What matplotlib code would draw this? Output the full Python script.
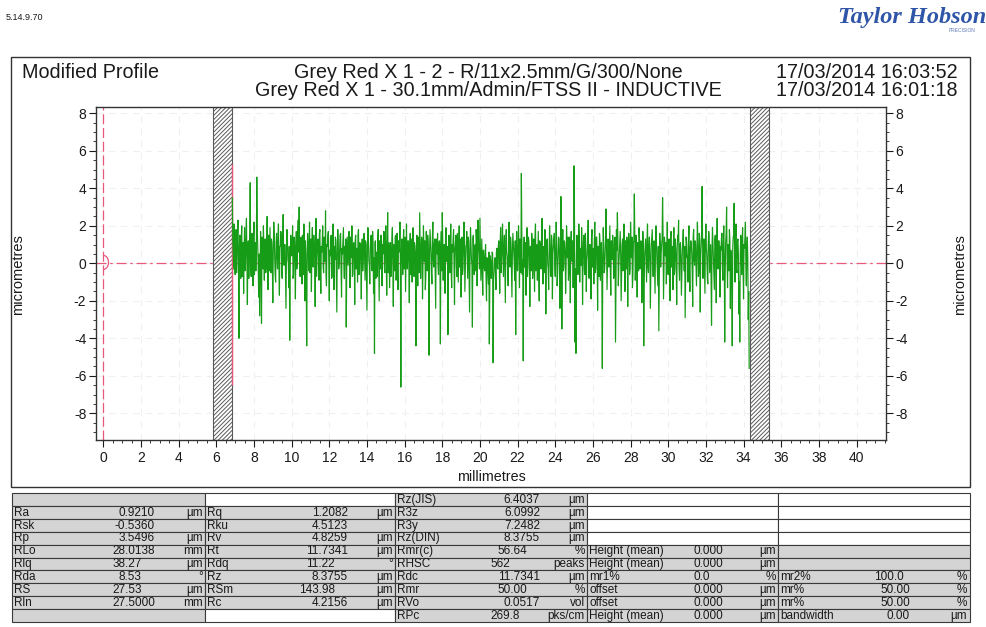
import numpy as np
import matplotlib
matplotlib.use("Agg")
import matplotlib.pyplot as plt
from matplotlib.patches import Rectangle, Arc
from matplotlib.ticker import MultipleLocator

plt.rcParams['font.family'] = ['Liberation Sans', 'DejaVu Sans']
plt.rcParams['hatch.linewidth'] = 0.7
plt.rcParams['hatch.color'] = '#6a6a6a'
plt.rcParams['axes.unicode_minus'] = False

# ---- measured profile (micrometres), sampled every 0.025 mm from 6.85 mm ----
profile_start_mm = 6.85
sample_spacing_mm = 0.025
profile_um = [
    3.5, 1.2, 0.4, -0.3, 2.1, 0.9, -0.6, 1.4, 1.8, -0.5, 0.2, 1.6, 2.3, 0.2, -4.0, 0.8, 1.5, -0.2, -0.8, 1.3,
    2.0, -0.7, 0.5, 1.1, -1.6, 0.6, 1.9, -0.4, 0.1, 1.5, 2.4, 0.3, -2.2, 0.9, 1.2, -0.8, 0.3, 1.7, 4.3, 0.1,
    -0.7, 1.0, 1.6, 0.4, -1.2, 1.3, 2.2, -0.6, 0.6, 1.1, -0.4, 0.7, 4.6, 2.0, 0.9, -0.2, -1.8, 0.5, -2.8, -0.9,
    1.7, 0.6, -3.2, 1.4, 0.8, -0.3, 2.0, 0.9, -0.9, 1.2, 1.3, -0.5, -0.2, 1.0, 2.5, 0.2, -1.4, 1.5, 0.7, -0.4,
    1.9, 0.8, -0.5, 1.3, 1.1, -0.1, -2.1, 0.7, 2.2, 1.6, 0.3, -0.6, -1.0, 1.1, 1.6, 0.4, -0.3, 1.4, 2.1, -0.2,
    -1.7, 0.9, 0.9, 1.7, 1.4, -0.5, -0.8, 1.2, 2.6, 0.3, -0.1, 1.0, 1.0, -0.7, -2.4, 0.6, 1.8, 1.3, 0.2, 0.0,
    -1.3, 0.9, -4.1, -0.4, 1.5, 1.2, 0.4, 0.5, 2.0, -0.8, -0.6, 1.4, 1.2, 0.1, -1.9, 1.0, 1.7, -0.3, 0.1, 1.6,
    2.3, 0.6, 3.0, -0.2, -0.7, 1.1, 1.4, 0.4, -1.1, 1.5, 0.8, -0.6, 2.1, 0.8, -2.0, 1.2, 0.5, -0.9, -4.4, 0.7,
    1.6, 1.1, -0.4, 0.2, 2.2, -0.5, 0.7, 1.3, -1.5, 0.8, 1.9, -0.1, -0.2, 1.5, 1.0, 0.3, -2.3, 1.0, 2.4, -0.7,
    0.3, 1.2, 1.3, 0.5, -0.9, 1.6, 1.8, -0.4, -1.6, 0.9, 0.6, 1.1, 2.0, -0.2, -0.5, 1.4, 1.1, 0.1, 2.8, -0.6,
    -1.2, 1.0, 0.9, 1.5, 1.7, -0.3, -2.0, 0.7, 0.4, 1.2, 1.5, -0.8, -0.7, 1.3, 2.1, 0.2, -1.4, 0.9, 0.2, 1.4,
    1.2, -0.5, -2.6, 0.6, 1.8, 1.1, -0.3, 0.0, 0.8, 1.5, 1.6, -0.4, -1.8, 0.8, 0.5, 1.2, 1.9, -0.1, -0.8, 0.9,
    0.6, 1.3, -3.4, -0.5, 1.4, 0.6, -0.1, 1.1, 1.7, -0.2, -1.3, 1.4, 0.9, 0.3, 2.0, -0.7, -0.6, 1.0, 1.1, 0.5,
    -2.2, 1.2, 1.5, -0.3, 0.3, 0.8, -1.0, 1.5, 1.8, -0.6, -0.4, 1.1, 0.7, 0.2, -1.9, 0.9, 1.3, -0.4, 0.1, 1.3,
    1.6, 0.4, -0.9, 1.2, 1.0, -0.6, -2.5, 0.9, 1.9, 1.3, 0.2, -0.1, -1.1, 0.7, 1.4, 1.5, -0.3, -0.4, 1.7, 1.0,
    -1.6, 0.3, -4.8, 1.1, 1.2, -0.8, 0.4, 0.6, -0.7, 1.4, 1.8, 0.0, -2.0, 1.2, 0.9, -0.3, 1.5, 0.8, -1.2, 1.0,
    0.5, 1.2, 1.7, -0.2, -0.5, 1.4, 2.0, 0.3, -1.7, 0.9, 2.7, -0.5, 0.3, 1.1, -1.3, 0.6, 1.1, -0.7, -0.2, 1.3,
    1.9, 0.1, -2.3, 1.0, 0.8, -0.4, 1.4, 1.5, -0.9, 0.2, 1.6, -0.6, -1.4, 1.2, 0.6, 0.7, 2.2, -0.1, -6.6, 0.5,
    1.3, 0.9, -0.6, 1.1, 1.8, -0.3, 0.2, 1.4, -1.5, 0.5, 2.1, -0.2, -0.3, 1.2, 1.2, 0.0, -2.1, 1.0, 1.6, -0.6,
    0.4, 1.3, -1.0, 0.8, 1.9, -0.4, -0.7, 1.1, 0.9, 0.3, -4.4, 0.6, 1.5, -0.1, -1.2, 1.4, 0.7, -0.5, 2.7, 1.0,
    -0.8, 0.6, 1.4, 1.3, -1.9, -0.2, 2.0, 0.8, 0.1, 1.2, -1.4, -0.7, 1.7, 0.9, -0.4, 1.5, 1.1, -0.3, -4.9, 0.7,
    1.8, 1.1, 0.5, -0.5, -1.1, 1.4, 2.2, 0.2, -0.2, 1.0, 1.3, -0.4, -2.4, 1.3, 0.8, 0.5, 1.6, -0.2, -0.6, 1.1,
    1.2, 0.3, -4.3, 1.0, 1.7, -0.4, 2.7, 1.2, -0.9, 0.7, 1.0, -0.6, -1.6, 1.4, 1.9, 0.1, 0.3, 0.9, -3.8, -0.3,
    1.5, 1.2, -0.5, 0.6, 2.1, -0.5, -1.3, 1.0, 0.6, 1.3, 1.8, -0.1, -2.2, 0.8, 1.1, 1.5, -0.1, -0.7, 1.6, 0.4,
    -1.0, 1.1, 2.0, -0.2, 0.4, 1.3, -1.8, 0.5, 1.4, -0.6, -0.3, 0.9, 2.2, 1.2, -1.5, -0.3, 0.9, 1.0, 1.7, 0.4,
    -0.8, 1.4, 1.2, -0.5, -2.6, 0.7, 1.9, 1.1, 0.2, -0.1, -3.4, 1.3, 1.5, 0.2, -0.6, 0.9, 1.0, -0.4, 1.8, 1.2,
    -1.2, 0.5, 2.3, 1.0, 0.5, -0.3, 2.4, 0.8, -0.9, 0.2, 1.3, -0.6, -1.7, 0.7, 0.7, -0.2, -0.4, 0.4, 1.0, -0.8,
    -2.0, 0.3, 0.2, -0.5, -1.1, 0.6, -4.3, -1.0, 0.4, 0.1, -0.8, -0.4, 0.6, 0.5, -5.3, -0.9, -0.5, 0.2, 0.3, -0.3,
    -1.4, 0.6, 0.8, -0.2, -0.3, 0.9, 1.2, 0.3, -1.6, 1.1, 1.9, -0.5, 0.1, 1.3, 2.1, 0.4, -0.7, 0.8, 1.5, -0.3,
    -2.1, 1.2, 1.8, 0.6, 0.4, -0.6, -1.2, 1.0, 2.2, 0.2, -0.2, 1.4, 1.1, -0.4, -1.8, 0.7, 1.6, 1.1, 0.5, -0.1,
    -0.9, 1.2, -3.8, 0.4, 1.7, -0.3, -0.4, 1.0, 2.0, 0.6, -1.3, 1.3, 0.8, -0.5, 4.8, 1.6, -0.6, 0.2, -5.2, 0.8,
    1.4, -0.2, 0.2, 1.1, -1.7, 0.5, 1.9, -0.7, -0.1, 1.4, 1.2, 0.3, -2.3, 0.9, 0.9, -0.4, 1.6, 1.2, -0.8, 0.1,
    1.3, 0.7, -1.5, 1.4, 2.1, -0.4, 0.3, 1.0, -0.9, 0.3, 1.7, -0.6, -2.0, 1.2, 1.0, 0.8, -0.3, 1.5, 2.4, -0.2,
    -1.1, 0.9, 0.6, -0.5, 1.8, 1.1, -2.7, 0.4, 1.2, 1.3, 0.0, -0.3, -1.4, 0.6, 2.0, 1.0, -0.5, -0.7, 1.5, 1.2,
    -1.9, 0.5, 0.9, 1.3, 1.6, -0.1, -0.7, 0.8, 2.2, 1.1, -1.2, -0.6, 0.4, 1.4, 1.3, 0.2, -2.4, 0.9, 3.56, 1.6,
    -3.5, 0.3, 1.8, -0.4, -0.2, 1.2, 1.1, 0.6, -1.6, -0.2, 2.0, 1.0, 0.3, 1.4, -0.9, -0.5, 1.4, 0.7, -2.1, 1.1,
    1.7, 0.2, 0.1, 1.2, -1.3, 0.6, 5.2, 1.8, -4.2, -0.3, -4.8, 0.4, 1.5, 1.0, -0.6, -0.5, 2.1, 1.3, -1.0, 0.7,
    0.8, -0.1, 1.9, 1.1, -2.2, 0.3, 1.2, 1.5, -0.4, -0.6, 1.6, 0.9, -1.5, 0.1, 0.5, 1.2, 2.3, -0.4, -0.8, 1.0,
    1.0, 0.6, -1.9, 1.3, 1.8, -0.2, 0.2, 0.8, -1.1, 1.1, 2.2, -0.5, -0.3, 1.4, 1.4, 0.3, -2.5, 0.9, 0.7, -0.7,
    1.6, 1.2, -0.9, 0.5, 1.1, -0.9, -5.6, 0.4, 1.9, 1.0, -0.5, -0.3, 0.6, 1.3, 2.9, 0.7, -1.4, -0.1, 1.3, 1.1,
    -0.2, 0.9, 2.0, -0.4, -1.7, 1.2, 0.9, 0.2, 1.5, 1.0, -0.8, -0.6, 1.2, 1.4, -4.2, -0.8, 1.8, 0.7, 2.7, 1.3,
    -1.2, -0.2, 0.4, 1.1, 1.7, 0.5, -2.0, -0.5, 1.0, 1.3, -0.4, 0.0, 2.1, 0.8, -1.5, 1.2, 0.8, -0.3, 1.4, 1.0,
    -2.3, 0.4, 1.6, 1.1, -0.6, -0.3, 2.2, 0.9, 0.3, 1.4, -1.3, -0.6, 1.1, 1.2, 3.7, 1.6, -0.9, -0.1, 1.5, 0.8,
    -1.8, 1.1, 0.7, -0.4, 1.9, 1.3, -0.3, 0.3, 1.2, 0.7, -2.1, -0.5, 1.7, 1.2, -4.4, -0.9, 0.5, 0.9, 1.3, 0.2,
    -1.0, 1.3, 2.1, -0.2, -0.5, 1.0, 1.4, 0.6, -2.4, -0.7, 0.9, 1.4, 1.8, 0.4, -0.7, 1.1, 1.2, -0.3, -1.6, 0.8,
    2.0, 1.2, 0.2, -0.5, -1.2, 0.9, -3.6, -0.8, 1.6, 1.0, -0.2, 0.5, 1.0, 1.3, 3.5, 1.6, -1.9, -0.4, 1.4, 0.7,
    0.4, 1.1, -1.1, 0.3, 2.2, -0.5, -0.6, 1.2, 1.3, 0.6, -2.0, 1.4, 1.7, -0.2, 0.1, 0.9, -1.4, 1.0, 1.9, -0.6,
    -0.3, 1.3, 0.8, 0.1, -2.2, 0.7, 1.5, 1.2, 2.3, -0.3, -0.9, 1.0, 1.1, 0.4, -1.7, -0.4, 0.6, 1.3, 1.8, 0.5,
    -0.4, 0.9, -2.9, -0.6, 1.4, 1.1, 0.3, 0.4, -1.0, 1.3, 2.0, -0.3, -1.5, 0.8, 1.2, 1.0, 0.5, -0.5, -2.3, 1.4,
    1.8, 0.2, -0.1, 1.2, 1.0, -0.2, -1.2, 0.9, 2.2, 1.1, -0.7, -0.5, 1.6, 1.3, -2.6, 0.3, 0.9, 1.5, 4.1, 1.2,
    -0.8, 0.6, 1.3, -0.3, -1.6, 1.2, 2.1, 0.8, 0.4, -0.6, -1.1, 1.0, 1.7, 1.4, -0.5, 0.2, 1.0, -0.8, -3.3, 0.7,
    1.9, 1.1, 0.2, -0.4, -1.4, 1.3, 1.5, 0.5, -2.1, 1.0, 2.4, -0.2, -0.3, 1.2, 1.2, 0.4, -1.8, 0.9, 0.7, 1.3,
    1.6, -0.2, -0.9, 1.1, 2.0, 0.5, -4.2, -0.6, 1.1, 1.6, 3.0, 0.3, -1.3, 1.0, 0.6, -0.4, 1.8, 1.2, -2.4, 0.7,
    0.3, -0.9, -4.4, 0.8, 1.4, 1.5, 3.2, 0.1, -1.0, 1.2, 2.1, -0.3, -0.5, 1.1, 1.3, 0.6, -2.7, -1.0, -4.2, 0.4,
    1.5, 0.9, -0.6, 1.2, 1.9, -0.3, -1.9, 1.0, 0.8, 1.4, 2.2, -0.2, -1.2, 0.8, 1.4, 0.3, -3.0, -1.5, -5.6,
]

# excluded (hatched) zones and the reference step, mm / micrometres
excluded_zones_mm = [(5.84, 6.85), (34.32, 35.34)]
step_edge_mm = 6.85
step_span_um = (-6.5, 5.3)

x_ticks_mm = list(range(0, 41, 2))
y_ticks_um = list(range(-8, 9, 2))

# ---- parameter table ----
col1_labels = ["", "Ra", "Rsk", "Rp", "RLo", "Rlq", "Rda", "RS", "Rln", ""]
col1_values = ["", "0.9210", "-0.5360", "3.5496", "28.0138", "38.27", "8.53", "27.53", "27.5000", ""]
col1_units = ["", "µm", "", "µm", "mm", "µm", "°", "µm", "mm", ""]

col2_labels = ["", "Rq", "Rku", "Rv", "Rt", "Rdq", "Rz", "RSm", "Rc", ""]
col2_values = ["", "1.2082", "4.5123", "4.8259", "11.7341", "11.22", "8.3755", "143.98", "4.2156", ""]
col2_units = ["", "µm", "", "µm", "µm", "°", "µm", "µm", "µm", ""]

col3_labels = ["Rz(JIS)", "R3z", "R3y", "Rz(DIN)", "Rmr(c)", "RHSC", "Rdc", "Rmr", "RVo", "RPc"]
col3_values = ["6.4037", "6.0992", "7.2482", "8.3755", "56.64", "562", "11.7341", "50.00", "0.0517", "269.8"]
col3_units = ["µm", "µm", "µm", "µm", "%", "peaks", "µm", "%", "vol", "pks/cm"]

col4_labels = ["", "", "", "", "Height (mean)", "Height (mean)", "mr1%", "offset", "offset", "Height (mean)"]
col4_values = ["", "", "", "", "0.000", "0.000", "0.0", "0.000", "0.000", "0.000"]
col4_units = ["", "", "", "", "µm", "µm", "%", "µm", "µm", "µm"]

col5_labels = ["", "", "", "", "", "", "mr2%", "mr%", "mr%", "bandwidth"]
col5_values = ["", "", "", "", "", "", "100.0", "50.00", "50.00", "0.00"]
col5_units = ["", "", "", "", "", "", "%", "%", "%", "µm"]

W, H = 987, 627
fig = plt.figure(figsize=(W / 100, H / 100), dpi=100)
fig.patch.set_facecolor("white")

# page overlay in pixel coordinates
page = fig.add_axes([0, 0, 1, 1])
page.set_xlim(0, W)
page.set_ylim(H, 0)
page.axis("off")

TXT = "#1a1a1a"
PINK = "#e8587a"
GREEN = "#179c17"

page.text(6, 18, "5.14.9.70", fontsize=6.5, color=TXT, va="center", ha="left")
page.text(838, 17, "Taylor Hobson", fontsize=17.5, color="#2f55a8", style="italic",
          fontweight="bold", family="Liberation Serif", va="center", ha="left")
page.text(962, 30, "PRECISION", fontsize=3.5, color="#5a76b8", va="center", ha="center")

# outer frame of the profile panel
page.add_patch(Rectangle((11, 57), 959, 430, fill=False, edgecolor="#333333", lw=1.0))
TFS = 14.2
page.text(22, 72, "Modified Profile", fontsize=TFS, color=TXT, va="center", ha="left")
page.text(488, 72, "Grey Red X 1 - 2 - R/11x2.5mm/G/300/None", fontsize=TFS,
          color=TXT, va="center", ha="center")
page.text(488, 91, "Grey Red X 1 - 30.1mm/Admin/FTSS II - INDUCTIVE", fontsize=TFS,
          color=TXT, va="center", ha="center")
page.text(958, 72, "17/03/2014 16:03:52", fontsize=TFS, color=TXT, va="center", ha="right")
page.text(958, 91, "17/03/2014 16:01:18", fontsize=TFS, color=TXT, va="center", ha="right")
page.text(18, 275, "micrometres", fontsize=10.5, color=TXT, rotation=90, va="center", ha="center")
page.text(960, 275, "micrometres", fontsize=10.5, color=TXT, rotation=90, va="center", ha="center")
page.text(491, 477, "millimetres", fontsize=10.3, color=TXT, va="center", ha="center")

# ---- profile axes ----
ax = fig.add_axes([96 / W, 1 - 440 / H, (885.7 - 96) / W, (440 - 107.3) / H])
ax.set_xlim(-0.39, 41.55)
ax.set_ylim(-9.42, 8.32)
ax.set_facecolor("none")

for t in x_ticks_mm:
    ax.axvline(t, color="#f0f0f0", lw=0.8, ls=(0, (6, 5)), zorder=0)
for t in y_ticks_um:
    ax.axhline(t, color="#f0f0f0", lw=0.8, ls=(0, (6, 5)), zorder=0)

y0, y1 = ax.get_ylim()
for a, b in excluded_zones_mm:
    ax.add_patch(Rectangle((a, y0), b - a, y1 - y0, facecolor="white", edgecolor="#5a5a5a",
                           hatch="////////", lw=0.8, zorder=2))

ax.axhline(0, color=PINK, lw=0.9, ls=(0, (8, 3, 2, 3)), zorder=1)
ax.axvline(0, color=PINK, lw=0.9, ls=(0, (8, 3)), zorder=1)
ax.add_patch(Arc((0.0, 0.05), 0.55, 0.75, theta1=-90, theta2=90, color=PINK, lw=0.9, zorder=3))
ax.vlines(step_edge_mm, step_span_um[0], step_span_um[1], color=PINK, lw=1.0, zorder=3)

xs = profile_start_mm + sample_spacing_mm * np.arange(len(profile_um))
ax.plot(xs, profile_um, color=GREEN, lw=0.85, zorder=4)

ax.set_xticks(x_ticks_mm)
ax.set_yticks(y_ticks_um)
ax.xaxis.set_minor_locator(MultipleLocator(0.5))
ax.yaxis.set_minor_locator(MultipleLocator(0.5))
ax.yaxis.set_ticks_position("both")
ax.tick_params(axis="y", which="both", direction="out", labelleft=True, labelright=True,
               labelsize=10, colors=TXT, pad=2)
ax.tick_params(axis="x", which="both", direction="out", labelsize=10, colors=TXT, pad=3)
ax.tick_params(which="major", length=5, width=0.8)
ax.tick_params(which="minor", length=2.5, width=0.6)
for s in ax.spines.values():
    s.set_color("#333333")
    s.set_linewidth(1.0)

# ---- parameter table ----
col_edges = [12, 205, 395, 587, 778, 970]
row_top, row_h, n_rows = 493, 12.9, 10
label_x = [14, 207, 397, 589, 780]
unit_x = [203, 393, 585, 776, 967]
# right edge of a value carrying four decimals (values are aligned on the decimal point)
value_right_x = [155, 348, 540, None, 910]
value_decimals = [4, 4, 4, None, 2]
value_left_x = [None, None, None, 693, None]
shaded = [
    set(range(10)),
    set(range(1, 9)),
    set(range(10)),
    set(range(4, 10)),
    set(range(4, 10)),
]
columns = [
    (col1_labels, col1_values, col1_units),
    (col2_labels, col2_values, col2_units),
    (col3_labels, col3_values, col3_units),
    (col4_labels, col4_values, col4_units),
    (col5_labels, col5_values, col5_units),
]
FS = 8.5
DIGIT_PX = 0.556 * FS * 100 / 72
for c, (labels, values, units) in enumerate(columns):
    x0, x1 = col_edges[c], col_edges[c + 1]
    for r in range(n_rows):
        top = row_top + r * row_h
        fc = "#d4d4d4" if r in shaded[c] else "white"
        page.add_patch(Rectangle((x0, top), x1 - x0, row_h, facecolor=fc,
                                 edgecolor="#3a3a3a", lw=0.8))
        yc = top + row_h / 2 + 0.3
        if labels[r]:
            page.text(label_x[c], yc, labels[r], fontsize=FS, color=TXT, va="center", ha="left")
        v = values[r]
        if v:
            if value_right_x[c] is None:
                page.text(value_left_x[c], yc, v, fontsize=FS, color=TXT, va="center", ha="left")
            else:
                nd = len(v.split(".")[1]) if "." in v else -0.5
                shift = (value_decimals[c] - nd) * DIGIT_PX
                page.text(value_right_x[c] - shift, yc, v, fontsize=FS, color=TXT,
                          va="center", ha="right")
        if units[r]:
            page.text(unit_x[c], yc, units[r], fontsize=FS, color=TXT, va="center", ha="right")

fig.savefig("out.png", dpi=100)
